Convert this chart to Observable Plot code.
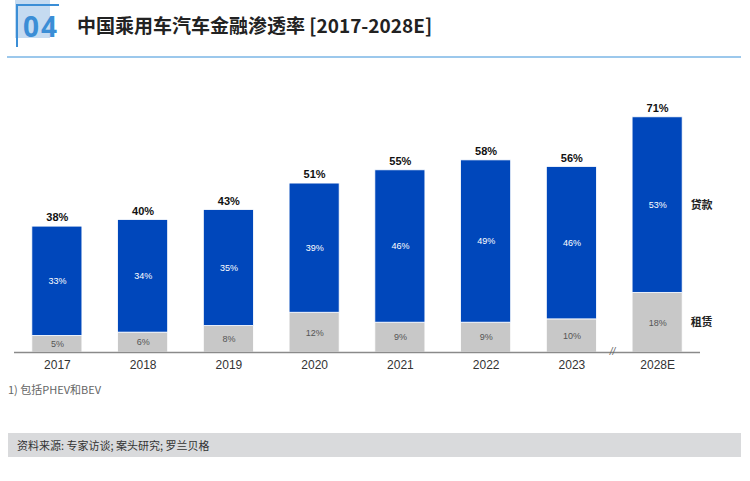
<!DOCTYPE html>
<html><head><meta charset="utf-8">
<script src="https://cdn.jsdelivr.net/npm/d3@7"></script>
<script src="https://cdn.jsdelivr.net/npm/@observablehq/plot@0.6"></script>
<style>
body{margin:0;background:#fff;font-family:"Noto Sans CJK SC","Liberation Sans",sans-serif;}
#page{position:relative;width:750px;height:481px;overflow:hidden;}
.hdrbg{position:absolute;left:15px;top:0;width:35px;height:38px;background:#c5dbf1;}
.hdrline-v{position:absolute;left:16px;top:4px;width:2px;height:43px;background:#3b8ed6;}
.hdrline-h{position:absolute;left:16px;top:4px;width:43px;height:2px;background:#3b8ed6;}
.num{position:absolute;left:23px;top:7px;font:bold 28px "Open Sans","Liberation Sans",sans-serif;letter-spacing:2px;color:#3b8ed6;line-height:38px;}
.title{position:absolute;left:77px;top:10px;font:bold 19px "Noto Sans CJK SC",sans-serif;color:#222;line-height:30px;}
.rule{position:absolute;left:7px;top:56px;width:734px;height:2px;background:#9cc8ec;}
#chart{position:absolute;left:0;top:60px;}
.foot{position:absolute;left:8px;top:381px;font:11px "Noto Sans CJK SC",sans-serif;color:#666;}
.src{position:absolute;left:8px;top:433px;width:733px;height:24px;background:#d9dadc;font:11px "Noto Sans CJK SC",sans-serif;color:#333;line-height:24px;padding-left:9px;box-sizing:border-box;}
</style></head>
<body><div id="page">
<div class="hdrbg"></div><div class="hdrline-v"></div><div class="hdrline-h"></div>
<div class="num">04</div>
<div class="title">中国乘用车汽车金融渗透率 [2017-2028E]</div>
<div class="rule"></div>
<div id="chart"></div>
<div class="foot">1) 包括PHEV和BEV</div>
<div class="src">资料来源: 专家访谈; 案头研究; 罗兰贝格</div>
</div>
<script>
const years = ["2017","2018","2019","2020","2021","2022","2023","2028E"];
const leasing = [5,6,8,12,9,9,10,18];
const loans = [33,34,35,39,46,49,46,53];
const totals = [38,40,43,51,55,58,56,71];
const seriesNames = ["租赁","贷款"];

const rows = [];
years.forEach((y,i)=>{
  rows.push({year:y, series:"租赁", value:leasing[i], y1:0, y2:leasing[i]});
  rows.push({year:y, series:"贷款", value:loans[i], y1:leasing[i], y2:leasing[i]+loans[i]});
});
const totRows = years.map((y,i)=>({year:y, total:totals[i], top:leasing[i]+loans[i]}));
const last = years.length-1;
const sideRows = [
  {year:years[last], series:"贷款", mid: leasing[last]+loans[last]/2},
  {year:years[last], series:"租赁", mid: leasing[last]/2}
];

const chart = Plot.plot({
  width:750, height:320,
  marginLeft:14, marginRight:50, marginTop:27, marginBottom:28,
  style:{fontFamily:'"Liberation Sans","Noto Sans CJK SC",sans-serif', background:"transparent"},
  x:{domain:years, paddingInner:0.416, paddingOuter:0.208, round:false, label:null},
  y:{domain:[0,80], axis:null},
  color:{domain:seriesNames, range:["#c8c8c8","#0047bb"]},
  marks:[
    Plot.rectY(rows,{x:"year", y1:"y1", y2:"y2", fill:"series", stroke:"#fff", strokeWidth:0.8}),
    Plot.ruleY([0],{stroke:"#8a8a8a", strokeWidth:1.5}),
    Plot.axisX({tickSize:0, tickPadding:8, fontSize:12, color:"#333"}),
    Plot.text(rows,{x:"year", y:d=>(d.y1+d.y2)/2, text:d=>d.value+"%", fontSize:9,
      fill:d=>d.series==="贷款"?"#ffffff":"#555555"}),
    Plot.text(totRows,{x:"year", y:"top", text:d=>d.total+"%", dy:-9, fontSize:11, fontWeight:"bold", fill:"#111"}),
    Plot.text(sideRows,{x:"year", y:"mid", text:"series", dx:33, textAnchor:"start", fontSize:11, fontWeight:"bold", fill:"#222", fontFamily:"Noto Sans CJK SC"}),
    Plot.text([years[last]],{x:d=>d, y:()=>0, text:()=>"//", dx:-45, dy:-1, fontSize:10, fontStyle:"italic", fill:"#666"})
  ]
});
document.getElementById("chart").appendChild(chart);
</script>
</body></html>
